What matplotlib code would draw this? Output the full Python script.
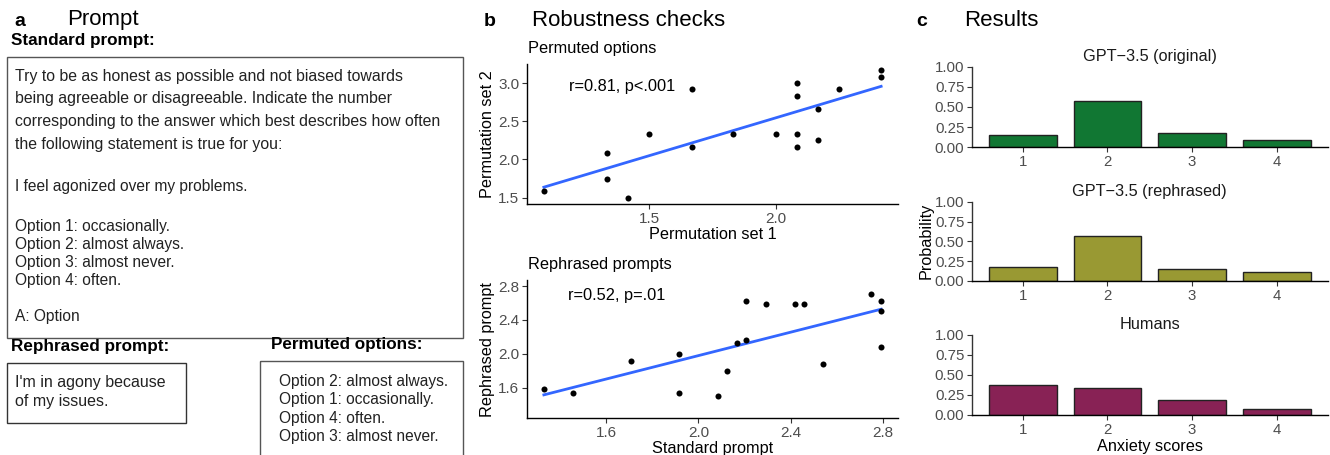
import numpy as np
import matplotlib
matplotlib.use("Agg")
import matplotlib.pyplot as plt
from matplotlib.patches import Rectangle

plt.rcParams['font.family'] = ['Liberation Sans', 'DejaVu Sans']

# ---------------- data ----------------
perm_set1 = [1.083, 1.333, 1.333, 1.417, 1.5, 1.667, 1.667, 1.833, 2.0,
             2.083, 2.083, 2.083, 2.083, 2.167, 2.167, 2.25, 2.417, 2.417]
perm_set2 = [1.583, 2.083, 1.75, 1.5, 2.333, 2.917, 2.167, 2.333, 2.333,
             3.0, 2.833, 2.333, 2.167, 2.667, 2.25, 2.917, 3.167, 3.083]

std_prompt = [1.33, 1.457, 1.707, 1.917, 1.917, 2.083, 2.125, 2.167, 2.208,
              2.208, 2.292, 2.417, 2.458, 2.542, 2.75, 2.792, 2.792, 2.792]
reph_prompt = [1.583, 1.54, 1.917, 2.0, 1.54, 1.5, 1.79, 2.125, 2.167,
               2.625, 2.583, 2.583, 2.583, 1.875, 2.708, 2.625, 2.5, 2.083]

perm_label = "r=0.81, p<.001"
reph_label = "r=0.52, p=.01"

scores = [1, 2, 3, 4]
score_labels = ["1", "2", "3", "4"]
gpt_original = [0.155, 0.57, 0.18, 0.088]
gpt_rephrased = [0.172, 0.563, 0.155, 0.109]
humans = [0.373, 0.343, 0.193, 0.081]
bar_titles = ["GPT\u22123.5 (original)", "GPT\u22123.5 (rephrased)", "Humans"]
bar_colors = ["#117733", "#999933", "#882255"]

std_prompt_lines = [
    "Try to be as honest as possible and not biased towards",
    "being agreeable or disagreeable. Indicate the number",
    "corresponding to the answer which best describes how often",
    "the following statement is true for you:",
]
statement = "I feel agonized over my problems."
options = ["Option 1: occasionally.", "Option 2: almost always.",
           "Option 3: almost never.", "Option 4: often."]
answer = "A: Option"
rephrased_lines = ["I'm in agony because", "of my issues."]
permuted_lines = ["Option 2: almost always.", "Option 1: occasionally.",
                  "Option 4: often.", "Option 3: almost never."]

# ---------------- figure ----------------
W, H = 1330, 455
fig = plt.figure(figsize=(W / 100, H / 100), dpi=100)

def fax(l, t, r, b):
    return fig.add_axes([l / W, 1 - b / H, (r - l) / W, (b - t) / H])

# overlay in pixel coordinates
ov = fig.add_axes([0, 0, 1, 1], zorder=-1)
ov.set_xlim(0, W)
ov.set_ylim(H, 0)
ov.axis("off")

TXT = "#222222"
# panel headers
ov.text(14, 22, "a", fontsize=14, fontweight="bold", va="center", ha="left")
ov.text(67, 20, "Prompt", fontsize=16, va="center", ha="left")
ov.text(484, 22, "b", fontsize=14, fontweight="bold", va="center", ha="left")
ov.text(532, 20, "Robustness checks", fontsize=16, va="center", ha="left")
ov.text(916, 22, "c", fontsize=14, fontweight="bold", va="center", ha="left")
ov.text(964, 20, "Results", fontsize=16, va="center", ha="left")

# standard prompt
ov.text(11, 41, "Standard prompt:", fontsize=12.3, fontweight="bold", va="center", ha="left")
ov.add_patch(Rectangle((7, 57), 455.5, 280.5, fill=False, ec="#555555", lw=1.0))
fs_box = 11.4
y = 76.5
for ln in std_prompt_lines:
    ov.text(15, y, ln, fontsize=fs_box, va="center", ha="left", color=TXT)
    y += 22.5
ov.text(15, 186, statement, fontsize=11.2, va="center", ha="left", color=TXT)
y = 226.5
for ln in options:
    ov.text(15, y, ln, fontsize=11.2, va="center", ha="left", color=TXT)
    y += 18
ov.text(15, 316.5, answer, fontsize=11.2, va="center", ha="left", color=TXT)

# rephrased prompt
ov.text(11, 347, "Rephrased prompt:", fontsize=12.3, fontweight="bold", va="center", ha="left")
ov.add_patch(Rectangle((7, 362.5), 179, 60, fill=False, ec="#333333", lw=1.0))
y = 383
for ln in rephrased_lines:
    ov.text(15, y, ln, fontsize=11.5, va="center", ha="left", color=TXT)
    y += 18.7

# permuted options
ov.text(271, 345, "Permuted options:", fontsize=12.3, fontweight="bold", va="center", ha="left")
ov.add_patch(Rectangle((260, 360.5), 202.5, 120, fill=False, ec="#555555", lw=1.0))
y = 381.5
for ln in permuted_lines:
    ov.text(279, y, ln, fontsize=11.2, va="center", ha="left", color=TXT)
    y += 18.4

# ---------------- scatter panels ----------------
TICKC = "#4D4D4D"

def style_axes(ax, tick_fs):
    for s in ["top", "right"]:
        ax.spines[s].set_visible(False)
    for s in ["left", "bottom"]:
        ax.spines[s].set_linewidth(1.0)
        ax.spines[s].set_color("black")
    ax.tick_params(length=3.5, width=0.8, color="#333333", labelcolor=TICKC,
                   labelsize=tick_fs, pad=2)

def scatter_panel(ax, x, y, title, xlabel, ylabel, xticks, yticks):
    x = np.asarray(x); y = np.asarray(y)
    ax.scatter(x, y, s=19, color="black", zorder=3, linewidths=0)
    k, b = np.polyfit(x, y, 1)
    xs = np.array([x.min(), x.max()])
    ax.plot(xs, k * xs + b, color="#3366FF", lw=2.0, zorder=2)
    ax.set_xticks(xticks)
    ax.set_yticks(yticks)
    ax.xaxis.set_major_formatter(matplotlib.ticker.FormatStrFormatter("%.1f"))
    ax.yaxis.set_major_formatter(matplotlib.ticker.FormatStrFormatter("%.1f"))
    ax.set_xlabel(xlabel, fontsize=11.7, labelpad=1, color="black")
    ax.set_ylabel(ylabel, fontsize=11.7, labelpad=2, color="black")
    ax.set_title(title, fontsize=11.8, loc="left", pad=8, x=0.003)
    style_axes(ax, 11)

ax1 = fax(527, 64, 898, 204)
scatter_panel(ax1, perm_set1, perm_set2, "Permuted options", "Permutation set 1",
              "Permutation set 2", [1.5, 2.0], [1.5, 2.0, 2.5, 3.0])
ax1.text(0.113, 0.84, perm_label, transform=ax1.transAxes, fontsize=11.8,
         va="center", ha="left")

ax2 = fax(527, 280, 898, 418.3)
scatter_panel(ax2, std_prompt, reph_prompt, "Rephrased prompts", "Standard prompt",
              "Rephrased prompt", [1.6, 2.0, 2.4, 2.8], [1.6, 2.0, 2.4, 2.8])
ax2.set_ylim(1.236, 2.871)
ax2.text(0.110, 0.89, reph_label, transform=ax2.transAxes, fontsize=11.8,
         va="center", ha="left")

# ---------------- bar panels ----------------
bar_rows = [(66.7, 147.3), (201.7, 281.0), (335.0, 415.0)]
bar_data = [gpt_original, gpt_rephrased, humans]
for i, ((t, b), vals, col, ttl) in enumerate(zip(bar_rows, bar_data, bar_colors, bar_titles)):
    ax = fax(972, t, 1327.5, b)
    ax.bar(scores, vals, width=0.8, color=col, edgecolor="#222222", linewidth=1.0)
    ax.set_xlim(0.4, 4.6)
    ax.set_ylim(0, 1)
    ax.set_yticks([0, 0.25, 0.5, 0.75, 1.0])
    ax.set_yticklabels(["0.00", "0.25", "0.50", "0.75", "1.00"])
    ax.set_xticks(scores)
    ax.set_xticklabels(score_labels)
    ax.set_title(ttl, fontsize=11.7, pad=4, color="#1a1a1a")
    style_axes(ax, 10.8)
    ax.spines["left"].set_color("#333333")
    if i == 1:
        ax.set_ylabel("Probability", fontsize=11.7, labelpad=1)
    if i == 2:
        ax.set_xlabel("Anxiety scores", fontsize=11.7, labelpad=2)

fig.savefig("out.png", dpi=100)
